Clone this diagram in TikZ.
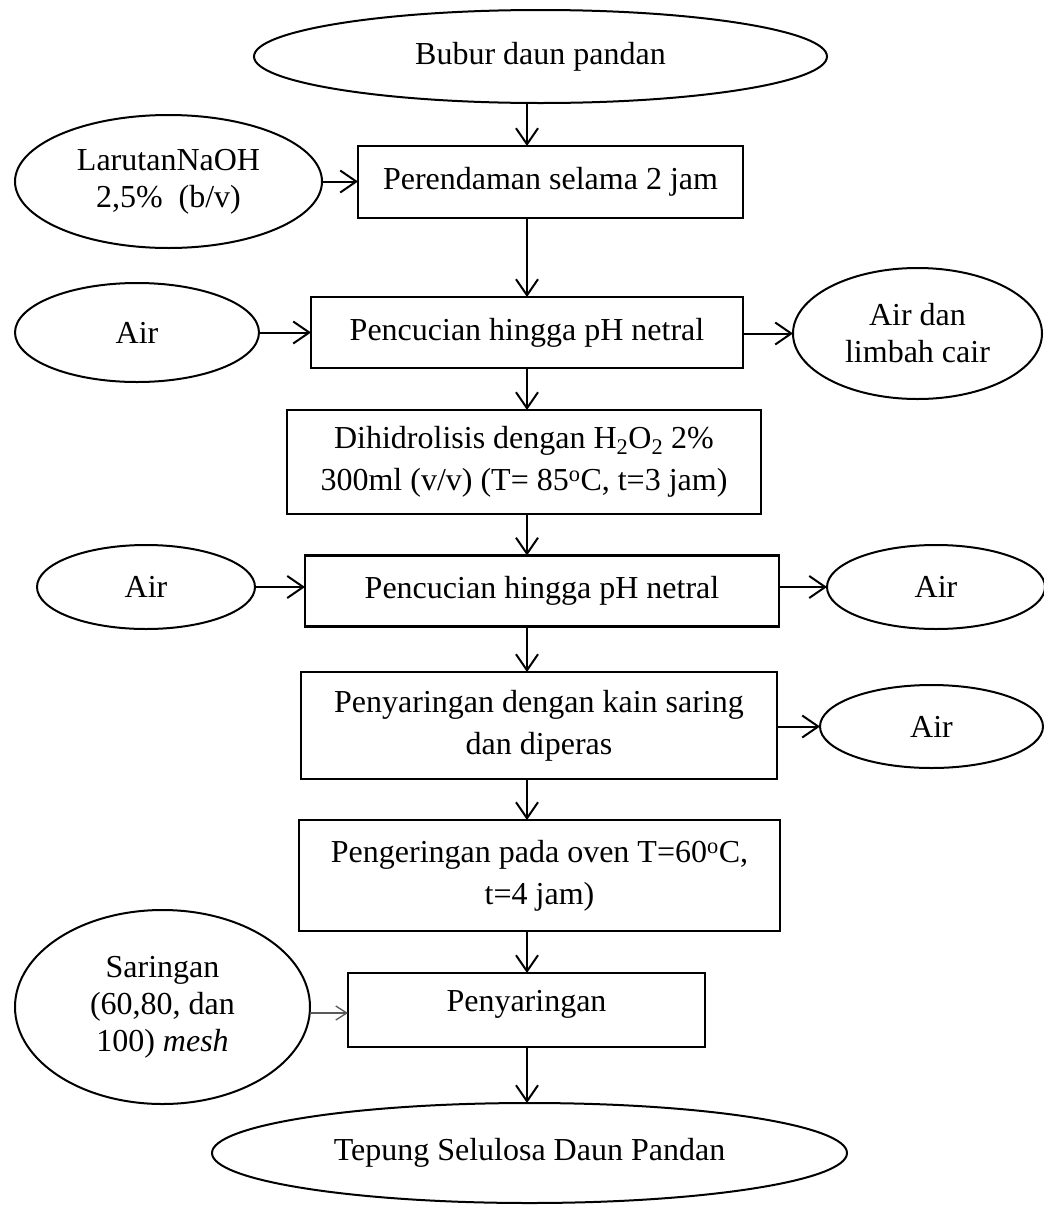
\documentclass[tikz,border=0pt]{standalone}
\usepackage{fontspec}
\setmainfont{Liberation Serif}
\usetikzlibrary{shapes.geometric,arrows.meta}
\begin{document}
\begin{tikzpicture}[x=1pt,y=-1pt,
  every node/.style={inner sep=0pt, outer sep=0pt},
  boxnode/.style={draw, line width=2.3pt, rectangle, align=center, font=\fontsize{32}{42}\selectfont},
  ovalnode/.style={draw, line width=2pt, ellipse, align=center, font=\fontsize{32}{37}\selectfont},
  arr/.style={line width=2pt, -{Straight Barb[length=16pt,width=22pt,line width=2pt]}},
  thinarr/.style={line width=1.3pt, gray!70!black, -{Straight Barb[length=11pt,width=14pt,line width=1.3pt]}},
]
\useasboundingbox (0,0) rectangle (1044,1205);
\coordinate (ax) at (527,0);

\node[ovalnode, minimum width=573, minimum height=93] (bubur) at (540.5,56.5) {Bubur daun pandan};
\node[ovalnode, minimum width=307, minimum height=133] (naoh) at (168.5,181.5) {LarutanNaOH\\2,5\% \ (b/v)};
\node[boxnode, minimum width=385, minimum height=72] (b1) at (550.5,182) {Perendaman selama 2 jam};

\node[ovalnode, minimum width=244, minimum height=99] (air1) at (137,332.5) {Air};
\node[boxnode, minimum width=432, minimum height=71] (b2) at (527,332.5) {Pencucian hingga pH netral};
\node[ovalnode, minimum width=249, minimum height=131] (limbah) at (917.5,333.5) {Air dan\\limbah cair};

\node[boxnode, minimum width=474, minimum height=104] (b3) at (524,462) {Dihidrolisis dengan H\textsubscript{2}O\textsubscript{2} 2\%\\300ml (v/v) (T= 85\textsuperscript{o}C, t=3 jam)};

\node[ovalnode, minimum width=218, minimum height=84] (air2) at (146,587) {Air};
\node[boxnode, minimum width=474, minimum height=71] (b4) at (542,591) {Pencucian hingga pH netral};
\node[ovalnode, minimum width=218, minimum height=84] (air3) at (936,587) {Air};

\node[boxnode, minimum width=476, minimum height=107] (b5) at (539,725.5) {Penyaringan dengan kain saring\\dan diperas};
\node[ovalnode, minimum width=223, minimum height=83] (air4) at (931.5,726.5) {Air};

\node[boxnode, minimum width=481, minimum height=111] (b6) at (539.5,875.5) {Pengeringan pada oven T=60\textsuperscript{o}C,\\t=4 jam)};

\node[ovalnode, minimum width=295, minimum height=194] (sar) at (162.5,1007) {Saringan\\(60,80, dan\\100) \textit{mesh}};
\node[boxnode, minimum width=357, minimum height=74, text depth=19pt] (b7) at (526.5,1010) {Penyaringan};

\node[ovalnode, minimum width=635, minimum height=100] (tepung) at (529.5,1153) {Tepung Selulosa Daun Pandan};

% vertical flow
\draw[arr] (bubur.south -| ax) -- (b1.north -| ax);
\draw[arr] (b1.south -| ax) -- (b2.north -| ax);
\draw[arr] (b2.south -| ax) -- (b3.north -| ax);
\draw[arr] (b3.south -| ax) -- (b4.north -| ax);
\draw[arr] (b4.south -| ax) -- (b5.north -| ax);
\draw[arr] (b5.south -| ax) -- (b6.north -| ax);
\draw[arr] (b6.south -| ax) -- (b7.north -| ax);
\draw[arr] (b7.south -| ax) -- (tepung.north -| ax);

% side flows
\draw[arr] (naoh.east) -- (naoh.east -| b1.west);
\draw[arr] (air1.east) -- (air1.east -| b2.west);
\draw[arr] (b2.east |- limbah.west) -- (limbah.west);
\draw[arr] (air2.east) -- (air2.east -| b4.west);
\draw[arr] (b4.east |- air3.west) -- (air3.west);
\draw[arr] (b5.east |- air4.west) -- (air4.west);
\draw[thinarr] ([yshift=-6pt]sar.east) -- ([yshift=-6pt]sar.east -| b7.west);
\end{tikzpicture}
\end{document}
